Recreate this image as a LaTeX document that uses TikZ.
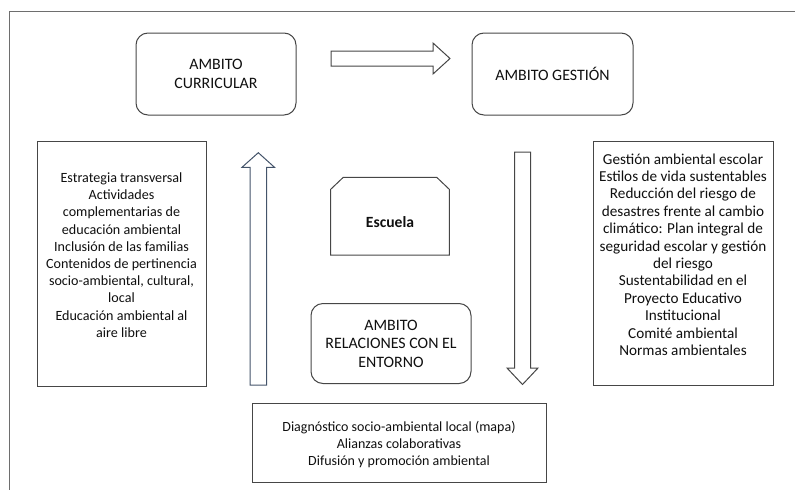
\documentclass[tikz,border=0pt]{standalone}
\usepackage{fontspec}
\setmainfont{Carlito}
\definecolor{linecol}{RGB}{70,70,70}
\definecolor{framecol}{RGB}{110,110,110}
\definecolor{bluecol}{RGB}{68,84,106}
\definecolor{txtcol}{RGB}{15,15,15}
\begin{document}
\begin{tikzpicture}[x=1pt,y=-1pt,
  shapeline/.style={draw=linecol, line width=1pt},
  roundbox/.style={shapeline, rounded corners=12pt, inner sep=0pt, align=center,
    text=txtcol, font=\fontsize{15.9}{18.5}\selectfont},
  plainbox/.style={shapeline, inner sep=0pt},
  bodytext/.style={align=center, inner sep=0pt, text=txtcol},
  blockarrow/.style={shapeline, fill=white, line join=miter}
]
\useasboundingbox (0,0) rectangle (795,490);
% outer frame
\draw[draw=framecol, line width=1pt] (795,11) -- (9,11) -- (9,490);

% title boxes
\node[roundbox, minimum width=160pt, minimum height=82pt] (cur) at (216,74) {AMBITO\\CURRICULAR};
\node[roundbox, minimum width=161pt, minimum height=82pt] (ges) at (552.5,74) {AMBITO GESTIÓN};
\node[roundbox, minimum width=160pt, minimum height=80pt] (rel) at (391,343.5) {AMBITO\\RELACIONES CON EL\\ENTORNO};

% text boxes
\node[plainbox, minimum width=169pt, minimum height=245pt] (lbox) at (121.5,263.5) {};
\node[bodytext, font=\fontsize{14.1}{17.2}\selectfont] (ltext) at (121.5,255)
  {Estrategia transversal\\Actividades\\complementarias de\\educación ambiental\\Inclusión de las familias\\Contenidos de pertinencia\\socio-ambiental, cultural,\\local\\Educación ambiental al\\aire libre};

\node[plainbox, minimum width=180pt, minimum height=244pt] (rbox) at (683,263) {};
\node[bodytext, font=\fontsize{15.2}{17.4}\selectfont] (rtext) at (683,254.5)
  {Gestión ambiental escolar\\Estilos de vida sustentables\\Reducción del riesgo de\\desastres frente al cambio\\climático: Plan integral de\\seguridad escolar y gestión\\del riesgo\\Sustentabilidad en el\\Proyecto Educativo\\Institucional\\Comité ambiental\\Normas ambientales};

\node[plainbox, minimum width=294pt, minimum height=79pt] (bbox) at (399,442.5) {};
\node[bodytext, font=\fontsize{14}{17.2}\selectfont] (btext) at (399,444.5)
  {Diagnóstico socio-ambiental local (mapa)\\Alianzas colaborativas\\Difusión y promoción ambiental};

% Escuela shape
\coordinate (e1) at (330.7,255);
\coordinate (e2) at (330.7,189.3);
\coordinate (e3) at (343.3,177.3);
\coordinate (e4) at (436.7,177.3);
\coordinate (e5) at (449.3,189.3);
\coordinate (e6) at (449.3,255);
\draw[shapeline, line join=miter] (e1) -- (e2) -- (e3) -- (e4) -- (e5) -- (e6) -- cycle;
\node[bodytext, font=\bfseries\fontsize{15.6}{18}\selectfont] (esc) at (390,222) {Escuela};

% block arrows
\draw[blockarrow] (331,51) -- (433,51) -- (433,43) -- (450,58.5) -- (433,74) -- (433,66) -- (331,66) -- cycle;
\draw[blockarrow, draw=bluecol] (250,385) -- (250,167.3) -- (242,167.3) -- (258.3,152.7) -- (274.5,167.3) -- (266.5,167.3) -- (266.5,385) -- cycle;
\draw[blockarrow] (514.5,152) -- (530.5,152) -- (530.5,368) -- (538,368) -- (522.5,384.5) -- (507,368) -- (514.5,368) -- cycle;
\end{tikzpicture}
\end{document}
